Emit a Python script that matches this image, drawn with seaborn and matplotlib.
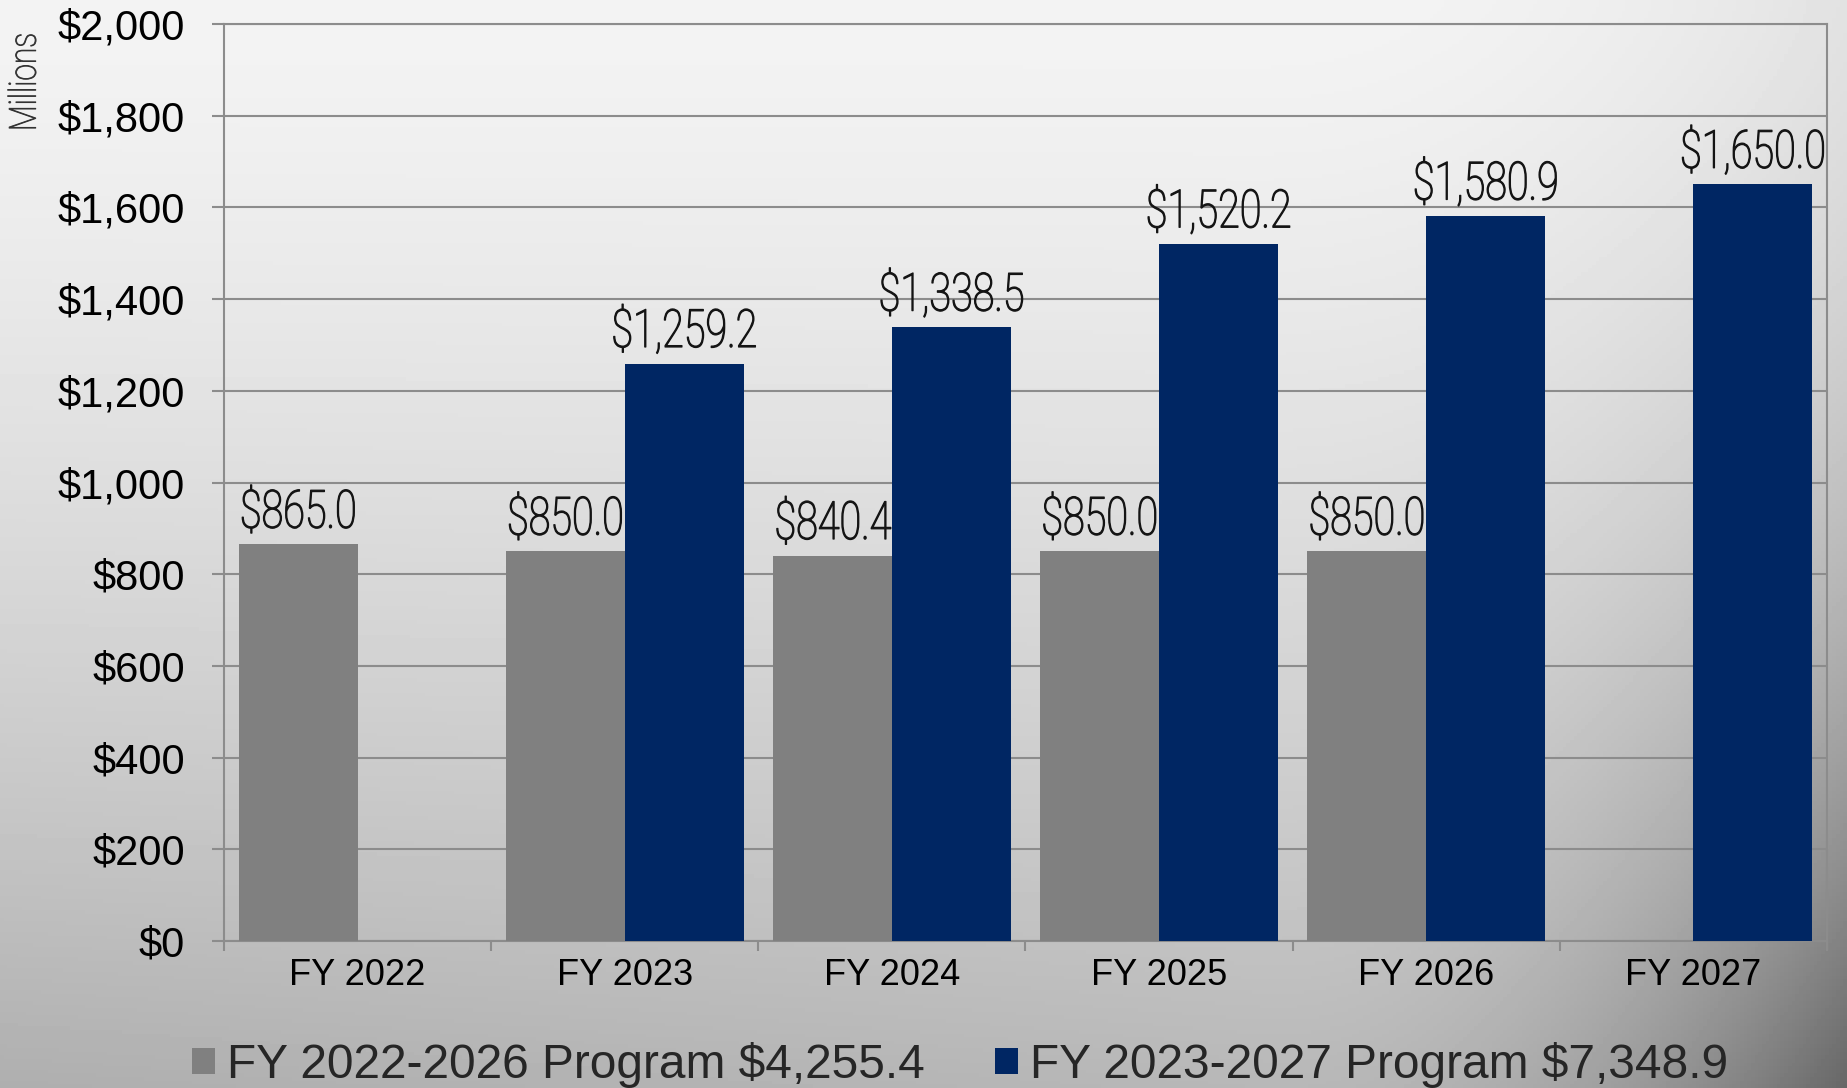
import numpy as np
import pandas as pd
import seaborn as sns
import matplotlib
from matplotlib import pyplot as plt
from matplotlib.patches import Patch
from matplotlib.patheffects import AbstractPathEffect
from matplotlib.transforms import Affine2D

matplotlib.use("Agg")

years = ["FY 2022", "FY 2023", "FY 2024", "FY 2025", "FY 2026", "FY 2027"]
program_2022_2026 = [865.0, 850.0, 840.4, 850.0, 850.0, np.nan]
program_2023_2027 = [np.nan, 1259.2, 1338.5, 1520.2, 1580.9, 1650.0]
series_names = ["FY 2022-2026 Program $4,255.4", "FY 2023-2027 Program $7,348.9"]
series_colors = ["#808080", "#002663"]
y_ticks = [0, 200, 400, 600, 800, 1000, 1200, 1400, 1600, 1800, 2000]

df = pd.DataFrame({
    "year": years * 2,
    "program": [series_names[0]] * len(years) + [series_names[1]] * len(years),
    "value": program_2022_2026 + program_2023_2027,
})


class Squeeze(AbstractPathEffect):
    """Condense a text path around its own centre (no narrow font installed),
    optionally with a thin outline to firm up a light weight."""

    def __init__(self, sx=1.0, sy=1.0, stroke=0.0):
        super().__init__()
        self.sx, self.sy, self.stroke = sx, sy, stroke

    def draw_path(self, renderer, gc, tpath, affine, rgbFace=None):
        ext = tpath.get_extents(affine)
        cx, cy = (ext.x0 + ext.x1) / 2, (ext.y0 + ext.y1) / 2
        squeeze = Affine2D().translate(-cx, -cy).scale(self.sx, self.sy).translate(cx, cy)
        gc0 = renderer.new_gc()
        gc0.copy_properties(gc)
        if self.stroke > 0 and rgbFace is not None:
            gc0.set_linewidth(self.stroke)
            gc0.set_foreground(rgbFace)
        renderer.draw_path(gc0, tpath, affine + squeeze, rgbFace)
        gc0.restore()


sns.set_style("white")
sans = ["Liberation Sans", "DejaVu Sans"]
thin = ["Roboto", "Liberation Sans", "DejaVu Sans"]
plt.rcParams["font.family"] = sans

fig = plt.figure(figsize=(18.47, 10.88), dpi=100)

# background gradient (slide style)
gy, gx = np.mgrid[0:1:300j, 0:1:500j]
shade = 0.955 - 0.22 * gy ** 1.3 - 0.05 * (1 - gx) * gy ** 2
edge = np.clip((gx - 0.68) / 0.32, 0, 1) ** 2.2
shade = shade - edge * (0.07 + 0.26 * gy ** 2)
bg = fig.add_axes([0, 0, 1, 1], zorder=-10)
bg.imshow(shade, cmap="gray", vmin=0, vmax=1, aspect="auto", extent=(0, 1, 0, 1))
bg.axis("off")

ax = fig.add_axes([224 / 1847, 1 - 941 / 1088, (1827 - 224) / 1847, (941 - 24) / 1088])
ax.set_facecolor("none")

sns.barplot(
    data=df, x="year", y="value", hue="program",
    order=years, hue_order=series_names, palette=series_colors,
    width=0.89, saturation=1, linewidth=0, legend=False, ax=ax, zorder=3,
)

for cont in ax.containers:
    for bar in cont:
        h = bar.get_height()
        if np.isnan(h):
            continue
        ax.annotate(
            "${:,.1f}".format(h),
            (bar.get_x() + bar.get_width() / 2, h),
            xytext=(0, 12), textcoords="offset points",
            ha="center", va="baseline", fontsize=38, family=thin, fontweight="light",
            color="#141414", zorder=5, path_effects=[Squeeze(sx=0.75, stroke=0.9)],
        )

grid_c = "#8c8c8c"
ax.set_ylim(0, 2000)
ax.set_xlim(-0.5, len(years) - 0.5)
ax.set_yticks(y_ticks)
ax.yaxis.set_major_formatter(plt.FuncFormatter(lambda v, pos: "${:,.0f}".format(v)))
ax.set_xticks(np.arange(-0.5, len(years), 1), minor=True)
ax.yaxis.grid(True, color=grid_c, lw=1.5)
ax.set_axisbelow(True)
ax.set_xlabel("")
ax.set_ylabel("")

ax.tick_params(axis="y", length=9, width=1.5, color=grid_c, pad=19, labelsize=30, labelcolor="black", left=True)
ax.tick_params(axis="x", which="major", length=0, pad=12, labelsize=26, labelcolor="black")
ax.tick_params(axis="x", which="minor", length=7, width=1.5, color=grid_c, bottom=True)

for s in ax.spines.values():
    s.set_visible(True)
    s.set_color(grid_c)
    s.set_linewidth(1.5)

fig.text(25 / 1847, 1 - 82 / 1088, "Millions", rotation=90, ha="center", va="center",
         fontsize=27, family=thin, fontweight="light", color="#333333",
         path_effects=[Squeeze(sy=0.8, stroke=0.6)])

handles = [Patch(facecolor=c, edgecolor="none", label=n) for c, n in zip(series_colors, series_names)]
fig.legend(
    handles=handles, loc="center", bbox_to_anchor=(0.52, 0.021), ncol=2,
    frameon=False, prop={"family": sans, "size": 34.5},
    handlelength=0.48, handleheight=0.48, handletextpad=0.25,
    columnspacing=1.47, borderpad=0,
)

fig.savefig("out.png", dpi=100)
